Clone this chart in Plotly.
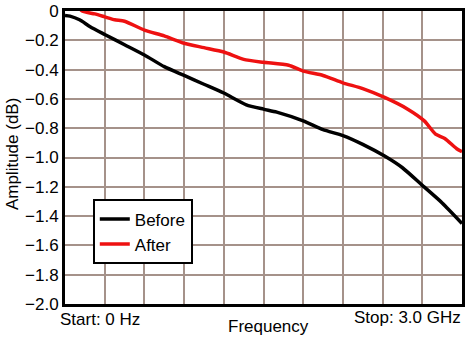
import plotly.graph_objects as go

# Frequency in GHz
before_f = [0.0, 0.0375, 0.11, 0.19, 0.30, 0.45, 0.60, 0.75, 0.90, 1.05, 1.20, 1.37, 1.50, 1.60, 1.80,
            1.95, 2.10, 2.25, 2.415, 2.55, 2.70, 2.85, 3.0]
before_db = [-0.03, -0.035, -0.06, -0.107, -0.16, -0.23, -0.30, -0.38, -0.44, -0.50, -0.56, -0.64, -0.67,
             -0.69, -0.75, -0.81, -0.85, -0.91, -0.99, -1.07, -1.19, -1.31, -1.45]

after_f = [0.0, 0.075, 0.13, 0.225, 0.30, 0.375, 0.45, 0.60, 0.75, 0.90, 1.05, 1.20, 1.35, 1.50,
           1.69, 1.80, 1.95, 2.10, 2.25, 2.415, 2.59, 2.715, 2.80, 2.87, 2.96, 3.0]
after_db = [0.08, 0.05, 0.0, -0.02, -0.04, -0.06, -0.07, -0.13, -0.17, -0.22, -0.25, -0.28,
            -0.33, -0.35, -0.37, -0.41, -0.44, -0.49, -0.53, -0.59, -0.67, -0.75, -0.84,
            -0.87, -0.94, -0.96]

y_ticks = [0, -0.2, -0.4, -0.6, -0.8, -1.0, -1.2, -1.4, -1.6, -1.8, -2.0]
y_tick_text = ["0", "\u22120.2", "\u22120.4", "\u22120.6", "\u22120.8", "\u22121.0",
               "\u22121.2", "\u22121.4", "\u22121.6", "\u22121.8", "\u22122.0"]

FONT = "Liberation Sans, Arial, sans-serif"
GRID = "#a5928a"
FS = 17

fig = go.Figure()
fig.add_trace(go.Scatter(x=before_f, y=before_db, mode="lines", name="Before",
                         line=dict(color="black", width=3.5, shape="spline", smoothing=0.6)))
fig.add_trace(go.Scatter(x=after_f, y=after_db, mode="lines", name="After",
                         line=dict(color="#ee1111", width=3.5, shape="spline", smoothing=0.6)))

fig.update_layout(
    width=467, height=338,
    margin=dict(l=65, r=2, t=4, b=34),
    paper_bgcolor="white", plot_bgcolor="white",
    font=dict(family=FONT, size=FS, color="black"),
    showlegend=True,
    legend=dict(x=0.07, y=0.357, xanchor="left", yanchor="top",
                bgcolor="white", bordercolor="black", borderwidth=2,
                font=dict(family=FONT, size=FS), itemwidth=30,
                tracegroupgap=0),
    xaxis=dict(range=[0, 3.0], dtick=0.3, tick0=0, showticklabels=False, ticks="",
               showgrid=True, gridcolor=GRID, gridwidth=2, zeroline=False,
               showline=True, linecolor="black", linewidth=3, mirror=True),
    yaxis=dict(range=[-2.0, 0], tickvals=y_ticks, ticktext=y_tick_text, ticks="",
               showgrid=True, gridcolor=GRID, gridwidth=2, zeroline=False,
               showline=True, linecolor="black", linewidth=3, mirror=True,
               ticklabeloverflow="allow",
               tickfont=dict(family=FONT, size=FS)),
    annotations=[
        dict(text="Amplitude (dB)", x=-0.1325, y=0.513, xref="paper", yref="paper",
             xanchor="center", yanchor="middle", textangle=-90, showarrow=False,
             font=dict(family=FONT, size=FS)),
        dict(text="Start: 0 Hz", x=-0.0175, y=-0.053, xref="paper", yref="paper",
             xanchor="left", yanchor="middle", showarrow=False, font=dict(family=FONT, size=FS)),
        dict(text="Stop: 3.0 GHz", x=1.0025, y=-0.047, xref="paper", yref="paper",
             xanchor="right", yanchor="middle", showarrow=False, font=dict(family=FONT, size=FS)),
        dict(text="Frequency", x=0.5125, y=-0.077, xref="paper", yref="paper",
             xanchor="center", yanchor="middle", showarrow=False, font=dict(family=FONT, size=FS)),
    ],
)

fig.write_html("out.html")
